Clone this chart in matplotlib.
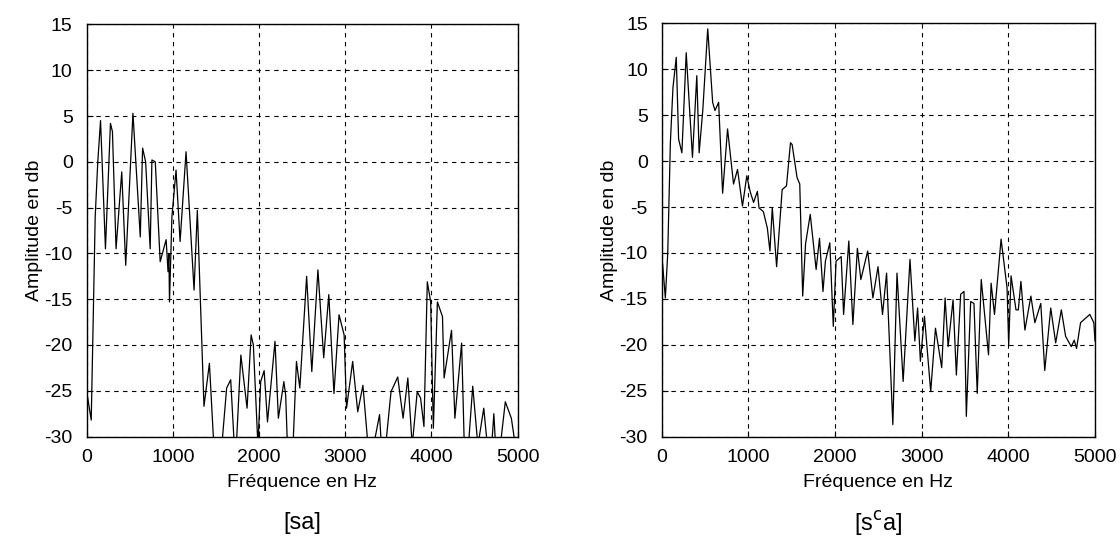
import numpy as np
import matplotlib.pyplot as plt

plt.rcParams['font.family'] = ['Liberation Sans', 'DejaVu Sans']
plt.rcParams['axes.unicode_minus'] = False

# [sa] spectrum: frequency (Hz) and amplitude (dB)
freq_sa = [0, 54, 100, 130, 162, 219, 277, 300, 342, 408, 454, 538, 623, 650,
           685, 738, 758, 797, 854, 923, 945, 955, 962, 990, 1038, 1085, 1154,
           1247, 1285, 1362, 1425, 1482, 1560, 1625, 1672, 1711, 1740, 1790,
           1862, 1909, 1935, 1988, 2020, 2060, 2099, 2186, 2225, 2289, 2310,
           2330, 2395, 2435, 2474, 2553, 2613, 2684, 2751, 2810, 2870, 2929,
           2988, 3016, 3087, 3146, 3206, 3265, 3330, 3399, 3420, 3470, 3532,
           3610, 3672, 3727, 3778, 3836, 3875, 3914, 3953, 3992, 4023, 4070,
           4129, 4148, 4234, 4273, 4351, 4382, 4430, 4480, 4540, 4608, 4650,
           4700, 4725, 4745, 4800, 4858, 4928, 4967, 5000]
amp_sa = [-25, -28.2, -6, 0, 4.5, -9.5, 4.2, 3.3, -9.5, -1.1, -11.3, 5.3, -8.2,
          1.5, 0.0, -9.5, 0.2, 0, -10.9, -8.5, -12, -10, -15.3, -6, -0.9, -8.7,
          1.1, -14, -5.3, -26.7, -22, -32, -32, -24.7, -23.8, -30.5, -30.5,
          -21.1, -26.9, -18.9, -20, -31, -24, -22.8, -28.4, -19.6, -28, -24,
          -25.5, -31, -31, -21.8, -24.7, -12.5, -22.9, -11.8, -21.4, -14.5,
          -25.3, -16.7, -18.9, -26.9, -21.8, -27.3, -24.4, -31, -31, -27.6,
          -31, -31, -25.1, -23.5, -28, -23.6, -31, -25.1, -25.8, -28.9, -13.1,
          -15.3, -29.1, -15.3, -16.9, -23.6, -18.4, -28, -19.8, -31, -31,
          -24.5, -31, -26.9, -31, -31, -27.5, -31, -31, -26.2, -28, -30.5, -31]

# [s^c a] spectrum
freq_sca = [0, 42, 70, 100, 130, 168, 195, 233, 283, 355, 405, 432, 474, 531,
            588, 615, 657, 703, 760, 829, 875, 932, 982, 1020, 1060, 1104, 1123,
            1173, 1219, 1249, 1276, 1326, 1390, 1440, 1486, 1505, 1562, 1593,
            1627, 1660, 1714, 1782, 1821, 1861, 1889, 1940, 1980, 2012, 2071,
            2099, 2159, 2206, 2258, 2298, 2377, 2437, 2496, 2548, 2595, 2667,
            2715, 2786, 2865, 2921, 2953, 2985, 3032, 3104, 3159, 3231, 3270,
            3305, 3362, 3400, 3450, 3488, 3515, 3565, 3603, 3641, 3687, 3771,
            3801, 3840, 3916, 3985, 4004, 4031, 4088, 4115, 4145, 4191, 4260,
            4306, 4374, 4420, 4489, 4546, 4611, 4661, 4726, 4760, 4787, 4833,
            4880, 4940, 4986, 5000]
amp_sca = [-10, -14.9, -10, 2, 8, 11.3, 2.4, 0.9, 11.8, 0.4, 9.3, 0.9, 5.5,
           14.4, 6.4, 5.5, 6.4, -3.5, 3.5, -2.5, -0.9, -4.9, -1.6, -3.3, -4.5,
           -3.3, -5.1, -5.5, -7.3, -9.8, -5.1, -11.5, -3.1, -2.7, 2.0, 1.8,
           -1.8, -2.5, -14.7, -9, -5.8, -11.8, -8.4, -14.2, -10.9, -8.9, -18,
           -10.9, -10.4, -16.7, -8.7, -17.8, -9.5, -12.9, -9.8, -14.9, -11.5,
           -16.7, -12.2, -28.7, -12.2, -24, -10.7, -19.6, -16, -21.8, -16.9,
           -25.1, -18.2, -22.5, -14.9, -20.2, -15.1, -23.3, -14.5, -14.2, -27.8,
           -15.3, -15.5, -25.3, -12.9, -21.1, -13.3, -16.7, -8.5, -13.8, -20,
           -12.5, -16.2, -16.2, -13.1, -18.4, -14.7, -17.6, -15.5, -22.8, -16,
           -19.8, -16.2, -19.1, -20.2, -19.5, -20.4, -17.6, -17.2, -16.7, -17.6,
           -19.6]

xticks = [0, 1000, 2000, 3000, 4000, 5000]
yticks = [-30, -25, -20, -15, -10, -5, 0, 5, 10, 15]
captions = ["[sa]", "[s$^{\\mathrm{c}}$a]"]

fig = plt.figure(figsize=(11.2, 5.43), dpi=100)
ax1 = fig.add_axes([0.0773, 0.196, 0.3848, 0.759])
ax2 = fig.add_axes([0.5908, 0.196, 0.3869, 0.761])

for ax, f, a, cap in [(ax1, freq_sa, amp_sa, captions[0]),
                      (ax2, freq_sca, amp_sca, captions[1])]:
    ax.plot(f, a, color="black", lw=0.9)
    ax.set_xlim(0, 5000)
    ax.set_ylim(-30, 15)
    ax.set_xticks(xticks)
    ax.set_yticks(yticks)
    ax.grid(True, color="black", ls=(0, (4, 4)), lw=0.8)
    ax.tick_params(direction="in", labelsize=14, length=4, pad=9)
    ax.tick_params(axis="y", pad=10)
    ax.set_xlabel("Fréquence en Hz", fontsize=14, labelpad=6)
    ax.set_ylabel("Amplitude en db", fontsize=14, labelpad=1)
    for s in ax.spines.values():
        s.set_linewidth(1.0)
    ax.text(0.5, -0.21, cap, transform=ax.transAxes, ha="center",
            va="center", fontsize=17)

fig.savefig("out.png", dpi=100, facecolor="white")
